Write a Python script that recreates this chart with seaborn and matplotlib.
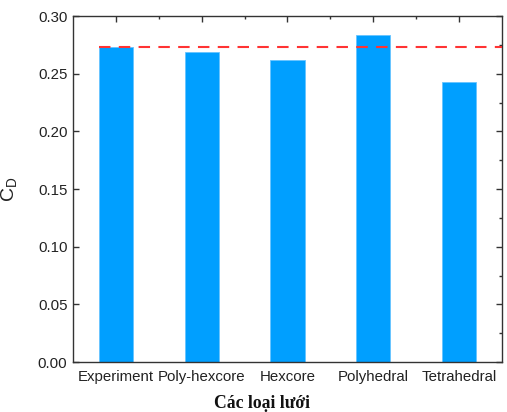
import matplotlib
matplotlib.use("Agg")
import matplotlib.pyplot as plt
import seaborn as sns
import pandas as pd
from matplotlib.ticker import MultipleLocator, FixedLocator

categories = ["Experiment", "Poly-hexcore", "Hexcore", "Polyhedral", "Tetrahedral"]
cd_values = [0.2735, 0.269, 0.262, 0.2832, 0.243]
experiment_ref = 0.2735
yticks = [0.00, 0.05, 0.10, 0.15, 0.20, 0.25, 0.30]

sns.set_theme(style="ticks")
plt.rcParams["font.family"] = ["Liberation Sans", "DejaVu Sans"]

df = pd.DataFrame({"mesh": categories, "cd": cd_values})

fig = plt.figure(figsize=(5.07, 4.12), dpi=100)
ax = fig.add_axes([0.144, 0.121, 0.846, 0.840])

sns.barplot(data=df, x="mesh", y="cd", color="#009FFF", saturation=1,
            width=0.4, edgecolor="#66C4FF", linewidth=0.6, ax=ax)

ax.hlines(experiment_ref, xmin=-0.2, xmax=len(categories) - 0.5,
          colors="#FF3333", linestyles=(0, (5.5, 4)), linewidth=1.5, zorder=5)

ax.set_xlim(-0.5, len(categories) - 0.5)
ax.set_ylim(0, 0.30)
ax.set_yticks(yticks)
ax.set_yticklabels([f"{v:.2f}" for v in yticks])

for s in ax.spines.values():
    s.set_color("#333333")
    s.set_linewidth(1.0)

ax.tick_params(axis="y", which="major", direction="in", length=4, width=1,
               labelsize=10.8, colors="#333333", labelcolor="#222222",
               left=True, right=True, pad=4)
ax.tick_params(axis="x", which="major", direction="in", length=4, width=1,
               labelsize=10.8, colors="#333333", labelcolor="#222222",
               bottom=False, top=True, pad=6)
ax.yaxis.set_minor_locator(MultipleLocator(0.025))
ax.xaxis.set_minor_locator(FixedLocator([0.5, 1.5, 2.5, 3.5]))
ax.tick_params(axis="y", which="minor", direction="in", length=2.5, width=1,
               colors="#333333", left=False, right=True)
ax.tick_params(axis="x", which="minor", direction="in", length=2.5, width=1,
               colors="#333333", bottom=False, top=True)

ax.set_xlabel("Các loại lưới", fontfamily="Liberation Serif", fontweight="bold",
              fontsize=12.7, color="#111111")
ax.xaxis.set_label_coords(0.44, -0.095)
ax.set_ylabel(r"$\mathregular{C_D}$", fontsize=14, color="#222222")
ax.yaxis.set_label_coords(-0.125, 0.5)

fig.savefig("out.png", dpi=100)
